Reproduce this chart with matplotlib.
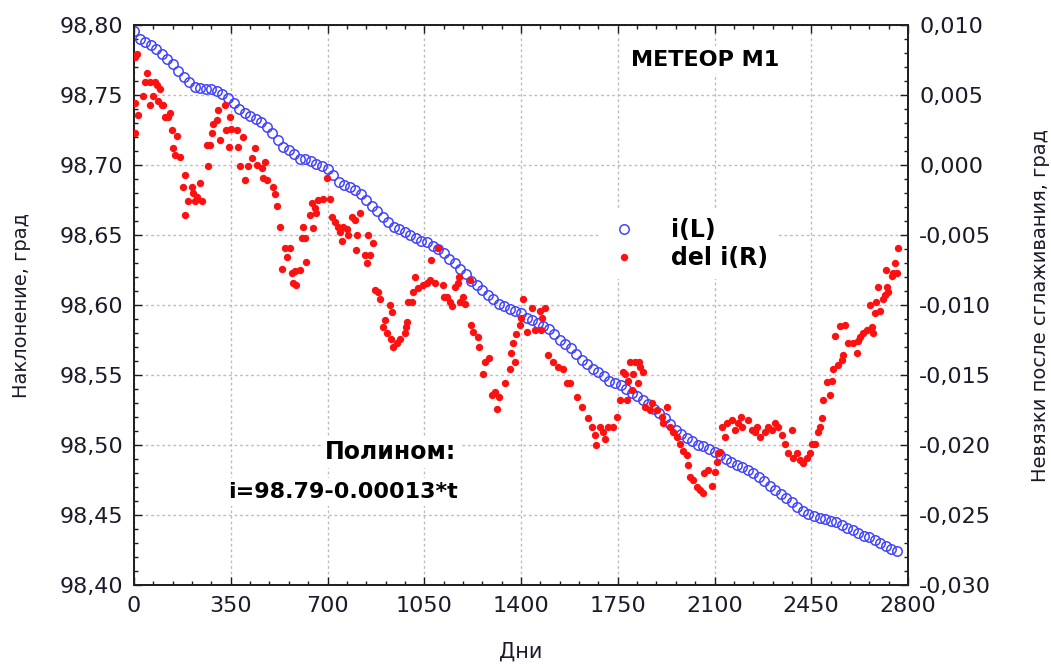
import matplotlib

matplotlib.use("Agg")
import matplotlib.pyplot as plt
from matplotlib.ticker import MultipleLocator, FuncFormatter

plt.rcParams["font.family"] = ["DejaVu Sans"]

# i(L): inclination, every 20 days
blue_days = list(range(0, 2780, 20))
blue_incl = [
    98.796, 98.790, 98.788, 98.786, 98.783, 98.779, 98.776, 98.772, 98.767, 98.763,
    98.759, 98.756, 98.755, 98.754, 98.754, 98.753, 98.751, 98.748, 98.744, 98.740,
    98.737, 98.735, 98.733, 98.731, 98.727, 98.723, 98.718, 98.713, 98.711, 98.708,
    98.704, 98.704, 98.703, 98.701, 98.699, 98.697, 98.693, 98.688, 98.686, 98.684,
    98.682, 98.679, 98.675, 98.671, 98.667, 98.663, 98.659, 98.656, 98.654, 98.652,
    98.650, 98.648, 98.646, 98.645, 98.642, 98.640, 98.637, 98.633, 98.630, 98.626,
    98.622, 98.617, 98.614, 98.611, 98.607, 98.604, 98.601, 98.599, 98.597, 98.596,
    98.594, 98.591, 98.589, 98.587, 98.585, 98.583, 98.579, 98.575, 98.572, 98.569,
    98.565, 98.561, 98.558, 98.554, 98.552, 98.549, 98.546, 98.544, 98.543, 98.540,
    98.537, 98.535, 98.532, 98.529, 98.526, 98.523, 98.519, 98.515, 98.511, 98.508,
    98.505, 98.503, 98.500, 98.499, 98.497, 98.495, 98.493, 98.490, 98.488, 98.486,
    98.484, 98.482, 98.480, 98.477, 98.474, 98.471, 98.468, 98.465, 98.462, 98.459,
    98.456, 98.453, 98.451, 98.449, 98.448, 98.447, 98.446, 98.445, 98.443, 98.441,
    98.439, 98.437, 98.435, 98.434, 98.432, 98.430, 98.428, 98.426, 98.424,
]

# del i(R): residuals after smoothing
red_days = [
    4, 4, 4, 11, 14, 33, 40, 47, 58, 58,
    69, 76, 83, 87, 94, 101, 105, 112, 123, 130,
    137, 141, 148, 156, 166, 177, 185, 185, 195, 210,
    213, 221, 228, 239, 246, 264, 268, 275, 282, 286,
    300, 304, 311, 329, 332, 345, 347, 350, 373, 376,
    384, 394, 402, 412, 427, 438, 445, 463, 467, 474,
    481, 503, 510, 517, 528, 535, 546, 554, 564, 572,
    575, 583, 586, 601, 608, 611, 619, 622, 637, 644,
    648, 655, 658, 666, 684, 698, 709, 716, 727, 738,
    745, 753, 756, 771, 774, 789, 800, 803, 807, 818,
    836, 843, 847, 854, 865, 872, 883, 890, 901, 908,
    915, 926, 929, 933, 937, 952, 962, 980, 983, 988,
    991, 1006, 1009, 1017, 1028, 1046, 1060, 1071, 1075, 1089,
    1100, 1118, 1121, 1132, 1143, 1150, 1161, 1172, 1176, 1179,
    1190, 1198, 1216, 1220, 1227, 1245, 1249, 1263, 1270, 1285,
    1295, 1306, 1313, 1320, 1342, 1360, 1364, 1371, 1378, 1382,
    1397, 1400, 1407, 1422, 1440, 1451, 1469, 1472, 1476, 1487,
    1498, 1516, 1534, 1552, 1567, 1578, 1603, 1621, 1643, 1657,
    1668, 1672, 1686, 1697, 1705, 1715, 1733, 1748, 1758, 1769,
    1776, 1784, 1787, 1795, 1802, 1805, 1813, 1823, 1826, 1831,
    1842, 1849, 1867, 1874, 1892, 1910, 1914, 1928, 1939, 1950,
    1965, 1975, 1986, 2001, 2004, 2012, 2022, 2037, 2048, 2059,
    2062, 2077, 2091, 2102, 2109, 2113, 2120, 2127, 2138, 2145,
    2164, 2174, 2185, 2196, 2200, 2221, 2236, 2247, 2254, 2265,
    2283, 2294, 2308, 2319, 2330, 2345, 2355, 2366, 2381, 2384,
    2399, 2410, 2420, 2435, 2446, 2453, 2464, 2475, 2482, 2489,
    2493, 2507, 2518, 2525, 2529, 2536, 2547, 2554, 2561, 2565,
    2572, 2583, 2601, 2616, 2620, 2627, 2638, 2652, 2663, 2670,
    2674, 2681, 2685, 2692, 2699, 2710, 2717, 2719, 2724, 2728,
    2742, 2746, 2753, 2760, 2764,
]
red_resid = [
    0.0077, 0.0044, 0.0023, 0.0079, 0.0036, 0.0049, 0.0059, 0.0066, 0.0059, 0.0043,
    0.0049, 0.0059, 0.0057, 0.0046, 0.0054, 0.0043, 0.0043, 0.0034, 0.0034, 0.0037,
    0.0025, 0.0012, 0.0007, 0.0021, 0.0006, -0.0016, -0.0007, -0.0036, -0.0026, -0.0016,
    -0.0020, -0.0026, -0.0023, -0.0013, -0.0026, 0.0014, -0.0001, 0.0014, 0.0023, 0.0029,
    0.0032, 0.0039, 0.0018, 0.0043, 0.0025, 0.0013, 0.0034, 0.0026, 0.0025, 0.0013,
    -0.0001, 0.0020, -0.0011, -0.0001, 0.0005, 0.0012, 0.0000, -0.0002, -0.0009, 0.0002,
    -0.0011, -0.0016, -0.0021, -0.0029, -0.0044, -0.0074, -0.0059, -0.0066, -0.0059, -0.0077,
    -0.0084, -0.0076, -0.0086, -0.0075, -0.0052, -0.0044, -0.0052, -0.0069, -0.0036, -0.0027,
    -0.0045, -0.0031, -0.0034, -0.0025, -0.0024, -0.0009, -0.0024, -0.0037, -0.0041, -0.0044,
    -0.0048, -0.0054, -0.0044, -0.0046, -0.0050, -0.0037, -0.0039, -0.0061, -0.0050, -0.0034,
    -0.0064, -0.0070, -0.0050, -0.0064, -0.0056, -0.0089, -0.0091, -0.0096, -0.0116, -0.0111,
    -0.0120, -0.0100, -0.0124, -0.0105, -0.0130, -0.0127, -0.0124, -0.0120, -0.0116, -0.0112,
    -0.0098, -0.0098, -0.0091, -0.0080, -0.0088, -0.0086, -0.0084, -0.0082, -0.0068, -0.0084,
    -0.0059, -0.0086, -0.0094, -0.0094, -0.0098, -0.0101, -0.0087, -0.0084, -0.0080, -0.0098,
    -0.0094, -0.0099, -0.0082, -0.0114, -0.0119, -0.0123, -0.0130, -0.0149, -0.0141, -0.0138,
    -0.0164, -0.0162, -0.0174, -0.0166, -0.0156, -0.0146, -0.0134, -0.0127, -0.0141, -0.0121,
    -0.0114, -0.0109, -0.0096, -0.0119, -0.0102, -0.0118, -0.0104, -0.0118, -0.0109, -0.0102,
    -0.0136, -0.0141, -0.0144, -0.0146, -0.0156, -0.0156, -0.0166, -0.0173, -0.0181, -0.0187,
    -0.0193, -0.0200, -0.0187, -0.0191, -0.0196, -0.0187, -0.0187, -0.0180, -0.0168, -0.0148,
    -0.0149, -0.0168, -0.0154, -0.0141, -0.0161, -0.0149, -0.0141, -0.0156, -0.0141, -0.0144,
    -0.0148, -0.0173, -0.0175, -0.0170, -0.0175, -0.0180, -0.0184, -0.0173, -0.0187, -0.0191,
    -0.0194, -0.0199, -0.0204, -0.0207, -0.0214, -0.0223, -0.0225, -0.0230, -0.0232, -0.0234,
    -0.0220, -0.0218, -0.0229, -0.0219, -0.0212, -0.0206, -0.0205, -0.0187, -0.0194, -0.0184,
    -0.0182, -0.0189, -0.0184, -0.0180, -0.0187, -0.0182, -0.0189, -0.0191, -0.0187, -0.0194,
    -0.0191, -0.0187, -0.0189, -0.0184, -0.0187, -0.0193, -0.0199, -0.0206, -0.0189, -0.0209,
    -0.0206, -0.0211, -0.0213, -0.0209, -0.0206, -0.0199, -0.0199, -0.0191, -0.0187, -0.0181,
    -0.0168, -0.0155, -0.0164, -0.0154, -0.0146, -0.0122, -0.0143, -0.0115, -0.0139, -0.0136,
    -0.0114, -0.0127, -0.0127, -0.0134, -0.0126, -0.0123, -0.0120, -0.0118, -0.0100, -0.0116,
    -0.0120, -0.0106, -0.0098, -0.0087, -0.0104, -0.0096, -0.0093, -0.0075, -0.0087, -0.0091,
    -0.0079, -0.0077, -0.0070, -0.0077, -0.0059,
]

W, H = 1051, 665


def fx(px):
    return px / W


def fy(py):
    return 1 - py / H


def comma_fmt(decimals):
    def fmt(v, _pos):
        if abs(v) < 1e-12:
            v = 0.0
        return f"{v:.{decimals}f}".replace(".", ",")
    return FuncFormatter(fmt)


fig = plt.figure(figsize=(W / 100, H / 100), dpi=100)
ax = fig.add_axes([fx(134), fy(585), fx(908) - fx(134), fy(25) - fy(585)])
ax2 = ax.twinx()

ax.plot(blue_days, blue_incl, linestyle="none", marker="o", markersize=6.8,
        markerfacecolor="none", markeredgecolor="#4444ff", markeredgewidth=1.1,
        label="i(L)", zorder=3)
ax2.plot(red_days, red_resid, linestyle="none", marker="o", markersize=5.3,
         color="#ff1010", markeredgewidth=0, label="del i(R)", zorder=3)

ax.set_xlim(0, 2800)
ax.set_ylim(98.40, 98.80)
ax2.set_ylim(-0.030, 0.010)
ax.xaxis.set_major_locator(MultipleLocator(350))
ax.xaxis.set_minor_locator(MultipleLocator(70))
ax.yaxis.set_major_locator(MultipleLocator(0.05))
ax.yaxis.set_minor_locator(MultipleLocator(0.01))
ax2.yaxis.set_major_locator(MultipleLocator(0.005))
ax2.yaxis.set_minor_locator(MultipleLocator(0.001))
ax.yaxis.set_major_formatter(comma_fmt(2))
ax2.yaxis.set_major_formatter(comma_fmt(3))

ink = "#1a1a2a"
ax.tick_params(which="both", direction="in", top=True, colors=ink, labelsize=16)
ax.tick_params(which="major", length=6, width=1.0, pad=8)
ax.tick_params(which="minor", length=3, width=1.0)
ax2.tick_params(which="both", direction="in", colors=ink, labelsize=16)
ax2.tick_params(which="major", length=6, width=1.0, pad=8)
ax2.tick_params(which="minor", length=3, width=1.0)
for sp in list(ax.spines.values()) + list(ax2.spines.values()):
    sp.set_linewidth(1.4)
    sp.set_color("#222222")

ax.grid(which="major", linestyle=(0, (2, 2)), color="#bdbdbd", linewidth=1.0, zorder=0)
ax.set_axisbelow(True)

fig.text(fx(22), fy(305), "Наклонение, град", rotation=90, ha="center", va="center",
         fontsize=14, color=ink)
fig.text(fx(1040), fy(305), "Невязки после сглаживания, град", rotation=90,
         ha="center", va="center", fontsize=14, color=ink)
fig.text(fx(521), fy(652), "Дни", ha="center", va="center", fontsize=15, color=ink)

box = dict(facecolor="white", edgecolor="none", pad=3)
fig.text(fx(705), fy(60), "МЕТЕОР М1", ha="center", va="center", fontsize=16,
         fontweight="bold", color="black", bbox=box, zorder=5)
fig.text(fx(456), fy(452), "Полином:", ha="right", va="center", fontsize=17,
         fontweight="bold", color="black", bbox=box, zorder=5)
fig.text(fx(458), fy(492), "i=98.79-0.00013*t", ha="right", va="center", fontsize=16,
         fontweight="bold", color="black", bbox=box, zorder=5)

h1, l1 = ax.get_legend_handles_labels()
h2, l2 = ax2.get_legend_handles_labels()
leg = ax2.legend(h1 + h2, l1 + l2, loc="center left",
                 bbox_to_anchor=(fx(600), fy(244)), bbox_transform=fig.transFigure,
                 frameon=True, facecolor="white", edgecolor="none", framealpha=1.0,
                 fancybox=False, borderpad=0.4, handlelength=1.2, handletextpad=1.4,
                 labelspacing=0.15, borderaxespad=0,
                 prop={"size": 17, "weight": "bold"})
leg.set_zorder(6)

fig.savefig("out.png", dpi=100)
plt.close(fig)
